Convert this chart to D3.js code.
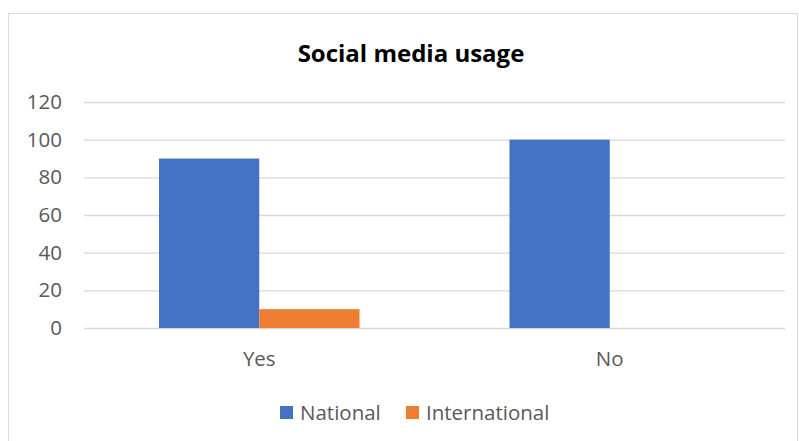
<!DOCTYPE html>
<html><head><meta charset="utf-8">
<script src="https://cdn.jsdelivr.net/npm/d3@7"></script>
<style>body{margin:0;background:#fff}svg{display:block}</style>
</head><body>
<script>
const categories = ["Yes", "No"];
const seriesNames = ["National", "International"];
const national = [90, 100];
const international = [10, 0];
const yTicks = [0, 20, 40, 60, 80, 100, 120];
const colors = ["#4472C4", "#ED7D31"];

const W = 799, H = 441;
const svg = d3.select("body").append("svg").attr("width", W).attr("height", H);
svg.append("rect").attr("x", 8.5).attr("y", 13.5).attr("width", W - 10).attr("height", H).attr("fill", "#fff").attr("stroke", "#d9d9d9");

const plot = {left: 84, right: 785, top: 102, bottom: 328};
const y = d3.scaleLinear().domain([0, 120]).range([plot.bottom, plot.top]);
const x0 = d3.scaleBand().domain(categories).range([plot.left, plot.right]).paddingInner(150/350.5).paddingOuter(75/350.5);
const x1 = d3.scaleBand().domain(seriesNames).range([0, x0.bandwidth()]);

const font = "'Open Sans', sans-serif";
const fs = "20.5px";
const gy = d3.axisLeft(y).tickValues(yTicks).tickSize(-(plot.right - plot.left)).tickPadding(22);
const gAxis = svg.append("g").attr("transform", `translate(${plot.left},0)`).call(gy);
gAxis.select(".domain").remove();
gAxis.selectAll(".tick line").attr("stroke", "#d9d9d9").attr("stroke-width", 1.3);
gAxis.selectAll(".tick text").attr("fill", "#595959").style("font-family", font).style("font-size", fs);

const data = categories.map((c, i) => ({cat: c, vals: [national[i], international[i]]}));
const groups = svg.append("g").selectAll("g").data(data).join("g").attr("transform", d => `translate(${x0(d.cat)},0)`);
groups.selectAll("rect").data(d => d.vals.map((v, j) => ({name: seriesNames[j], v, j})).filter(e => e.v > 0))
  .join("rect")
  .attr("x", d => x1(d.name)).attr("width", x1.bandwidth())
  .attr("y", d => y(d.v)).attr("height", d => y(0) - y(d.v))
  .attr("fill", d => colors[d.j]);

const gx = d3.axisBottom(x0).tickSize(0).tickPadding(23);
const xa = svg.append("g").attr("transform", `translate(0,${plot.bottom})`).call(gx);
xa.select(".domain").remove();
xa.selectAll(".tick text").attr("fill", "#595959").style("font-family", font).style("font-size", fs);

svg.append("text").attr("x", 411).attr("y", 62).attr("text-anchor", "middle")
  .style("font-family", font).style("font-weight", "bold").style("font-size", "24px").attr("fill", "#000")
  .text("Social media usage");

const legendX = [280, 406];
const leg = svg.append("g").selectAll("g").data(seriesNames).join("g").attr("transform", (d, i) => `translate(${legendX[i]},406)`);
leg.append("rect").attr("width", 13).attr("height", 13).attr("fill", (d, i) => colors[i]);
leg.append("text").attr("x", 20).attr("y", 14).attr("fill", "#595959").style("font-family", font).style("font-size", fs).text(d => d);
</script>
</body></html>
